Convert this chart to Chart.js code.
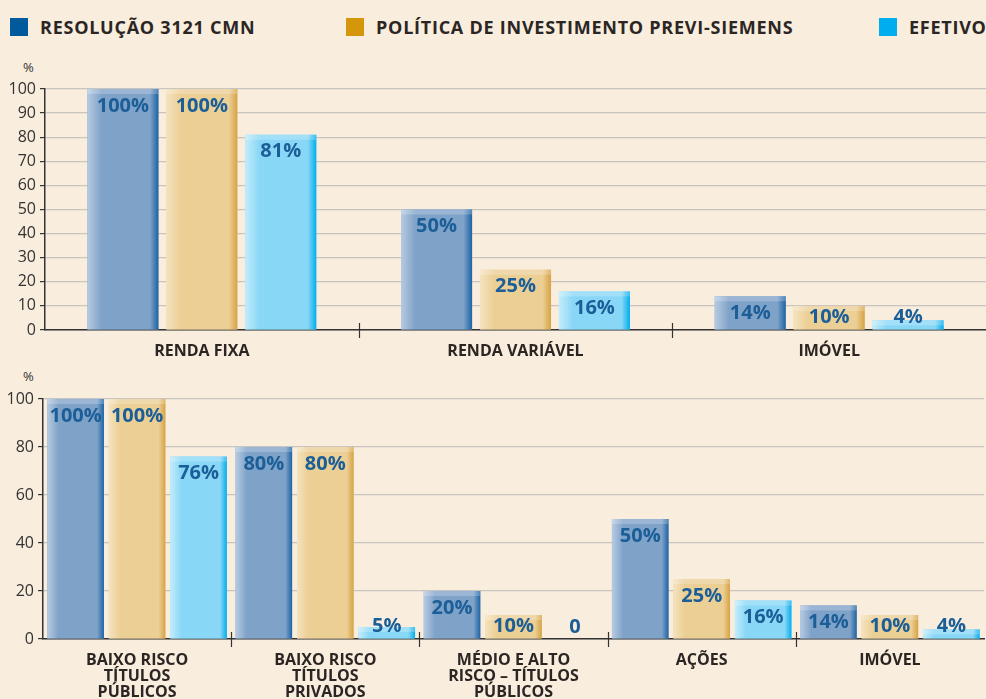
<!DOCTYPE html>
<html lang="pt-BR">
<head>
<meta charset="utf-8">
<script src="https://cdn.jsdelivr.net/npm/chart.js@4.4.1/dist/chart.umd.min.js"></script>
<style>
    html, body { margin: 0; padding: 0; background: #f9eddd; overflow: hidden; }
    body { width: 986px; height: 699px; position: relative; font-family: "Open Sans", "Noto Sans", sans-serif; }
    .legenda-item { position: absolute; top: 15px; display: flex; align-items: center; white-space: nowrap;
        font-size: 18px; font-weight: 700; color: #2b2624; letter-spacing: 0.75px; }
    .legenda-item span.caixa { display: inline-block; width: 18px; height: 18px; margin-right: 12px; }
    .pct { position: absolute; left: 23px; font-size: 13px; color: #333; }
    .grafico { position: absolute; left: 0; width: 986px; }
</style>
</head>
<body>
<div id="legenda"></div>
<div class="pct" style="top: 58px;">%</div>
<div class="grafico" style="top: 55px; height: 310px;"><canvas id="graficoRenda"></canvas></div>
<div class="pct" style="top: 367px;">%</div>
<div class="grafico" style="top: 365px; height: 345px;"><canvas id="graficoRisco"></canvas></div>

<script>
// Séries e cores
const nomesSeries = ['RESOLUÇÃO 3121 CMN', 'POLÍTICA DE INVESTIMENTO PREVI-SIEMENS', 'EFETIVO'];
const coresLegenda = ['#005a9c', '#d4970c', '#00aeef'];
const posLegenda = [10, 346, 879];

// Gráfico superior: por segmento
const categoriasRenda = ['RENDA FIXA', 'RENDA VARIÁVEL', 'IMÓVEL'];
const resolucaoRenda = [100, 50, 14];
const politicaRenda = [100, 25, 10];
const efetivoRenda = [81, 16, 4];

// Gráfico inferior: por risco
const categoriasRisco = [
    ['BAIXO RISCO', 'TÍTULOS', 'PÚBLICOS'],
    ['BAIXO RISCO', 'TÍTULOS', 'PRIVADOS'],
    ['MÉDIO E ALTO', 'RISCO – TÍTULOS', 'PÚBLICOS'],
    'AÇÕES',
    'IMÓVEL'
];
const resolucaoRisco = [100, 80, 20, 50, 14];
const politicaRisco = [100, 80, 10, 25, 10];
const efetivoRisco = [76, 5, 0, 16, 4];

// tons das barras: [claro esquerda, principal, escuro direita]
const tonsBarras = [
    ['#b7cbe2', '#7fa2c8', '#1c64a4'],
    ['#f5e3bf', '#ebcf95', '#d7a243'],
    ['#c4ecfb', '#88d7f6', '#00aeef']
];

// monta legenda
const legenda = document.getElementById('legenda');
nomesSeries.forEach((nome, i) => {
    const div = document.createElement('div');
    div.className = 'legenda-item';
    div.style.left = posLegenda[i] + 'px';
    div.innerHTML = `<span class="caixa" style="background:${coresLegenda[i]}"></span>${nome}`;
    legenda.appendChild(div);
});

const FONTE = '"Open Sans", "Noto Sans", sans-serif';

// Desenha o sombreado das barras e os rótulos de valor
const pluginBarras = {
    id: 'barrasSombreadas',
    afterDatasetsDraw(chart) {
        const ctx = chart.ctx;
        ctx.save();
        chart.data.datasets.forEach((ds, di) => {
            const meta = chart.getDatasetMeta(di);
            const tons = tonsBarras[di];
            meta.data.forEach(el => {
                const esq = el.x - el.width / 2;
                const alt = el.base - el.y;
                if (alt <= 0) return;
                const grad = ctx.createLinearGradient(esq, 0, esq + el.width, 0);
                grad.addColorStop(0, tons[0]);
                grad.addColorStop(0.2, tons[1]);
                grad.addColorStop(0.88, tons[1]);
                grad.addColorStop(1, tons[2]);
                ctx.fillStyle = grad;
                ctx.fillRect(esq, el.y, el.width, alt);
                ctx.fillStyle = 'rgba(255,255,255,0.22)';
                ctx.fillRect(esq, el.y, el.width, Math.min(5, alt));
            });
        });
        // rótulos
        ctx.font = `bold 20px ${FONTE}`;
        ctx.fillStyle = '#1b5e98';
        ctx.textAlign = 'center';
        ctx.textBaseline = 'middle';
        chart.data.datasets.forEach((ds, di) => {
            const meta = chart.getDatasetMeta(di);
            meta.data.forEach((el, i) => {
                const v = ds.data[i];
                const txt = v === 0 ? '0' : v + '%';
                const y = Math.min(el.y + 17, el.base - 12);
                ctx.fillText(txt, el.x, y);
            });
        });
        ctx.restore();
    }
};

// marcas separando as categorias no eixo x
const pluginSeparadores = {
    id: 'separadores',
    afterDraw(chart) {
        const xs = chart.scales.x;
        const ctx = chart.ctx;
        const base = chart.chartArea.bottom;
        ctx.save();
        ctx.strokeStyle = '#333';
        ctx.lineWidth = 1.2;
        for (let i = 1; i < chart.data.labels.length; i++) {
            const px = Math.round((xs.getPixelForValue(i - 1) + xs.getPixelForValue(i)) / 2) + 0.5;
            ctx.beginPath();
            ctx.moveTo(px, base - 7);
            ctx.lineTo(px, base + 8);
            ctx.stroke();
        }
        ctx.restore();
    }
};

function criarGrafico(canvasId, categorias, series, passo, cfg) {
    return new Chart(document.getElementById(canvasId), {
        type: 'bar',
        data: {
            labels: categorias,
            datasets: series.map((dados, i) => ({
                label: nomesSeries[i],
                data: dados,
                backgroundColor: tonsBarras[i][1],
                borderWidth: 0,
                barPercentage: cfg.barPct,
                categoryPercentage: cfg.catPct
            }))
        },
        options: {
            responsive: true,
            maintainAspectRatio: false,
            animation: false,
            layout: { padding: { top: cfg.topo, right: cfg.direita, left: 0, bottom: 0 } },
            plugins: {
                legend: { display: false },
                tooltip: { enabled: false }
            },
            scales: {
                x: {
                    grid: { display: false, drawTicks: false },
                    border: { color: '#333', width: 1.5 },
                    ticks: {
                        color: '#2b2624',
                        font: { family: FONTE, size: 16, weight: 'bold', lineHeight: 1.0 },
                        padding: 13,
                        maxRotation: 0,
                        autoSkip: false
                    },
                    afterFit: s => { s.height = cfg.alturaX; }
                },
                y: {
                    min: 0,
                    max: 100,
                    ticks: {
                        stepSize: passo,
                        color: '#333',
                        font: { family: FONTE, size: 16 },
                        padding: 4
                    },
                    grid: { color: '#c8c4bf', lineWidth: 1.2, tickLength: 5, tickColor: '#333' },
                    border: { color: '#333', width: 1.5 },
                    afterFit: s => { s.width = cfg.larguraY; }
                }
            }
        },
        plugins: [pluginBarras, pluginSeparadores]
    });
}

criarGrafico('graficoRenda', categoriasRenda, [resolucaoRenda, politicaRenda, efetivoRenda], 10,
    { topo: 34, direita: 0, alturaX: 35, larguraY: 45, barPct: 0.9, catPct: 0.755 });

criarGrafico('graficoRisco', categoriasRisco, [resolucaoRisco, politicaRisco, efetivoRisco], 20,
    { topo: 34, direita: 2, alturaX: 71, larguraY: 43, barPct: 0.92, catPct: 0.98 });
</script>
</body>
</html>
